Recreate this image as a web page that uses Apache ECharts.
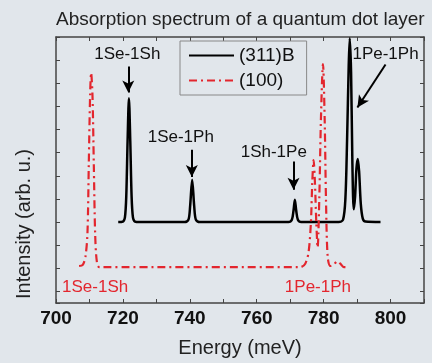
<!DOCTYPE html>
<html>
<head>
<meta charset="utf-8">
<script src="https://cdn.jsdelivr.net/npm/echarts@6/dist/echarts.min.js"></script>
<style>
  html, body { margin: 0; padding: 0; background: #e1e6eb; }
  #chart { width: 432px; height: 363px; }
</style>
</head>
<body>
<div id="chart"></div>
<script>
// (311)B spectrum, [energy meV, intensity]
const seriesB = [
    [718.6, 3.5], [720.0, 3.52], [720.6, 3.7], [721.0, 4.6], [721.4, 7.0], [721.8, 8.85],
    [722.2, 7.0], [722.6, 4.6], [723.0, 3.7], [723.6, 3.52], [725.0, 3.5],
    [738.5, 3.5], [739.6, 3.6], [740.1, 4.2], [740.7, 5.33], [741.3, 4.2], [741.8, 3.6], [742.9, 3.5],
    [769.5, 3.5], [770.5, 3.6], [771.0, 4.0], [771.4, 4.46], [771.8, 4.0], [772.3, 3.6], [773.3, 3.5],
    [784.5, 3.5], [785.8, 3.6], [786.5, 4.5], [787.0, 7.0], [787.5, 10.3], [787.8, 11.45],
    [788.2, 10.0], [788.6, 6.0], [789.0, 4.05], [789.4, 4.6], [789.8, 5.8], [790.2, 6.23],
    [790.6, 5.7], [791.1, 4.3], [791.7, 3.65], [792.5, 3.52], [797.0, 3.5]
];

// (100) spectrum
const series100 = [
    [706.9, 1.6], [708.0, 1.65], [708.8, 2.0], [709.4, 3.0], [709.8, 6.0], [710.2, 9.0], [710.5, 9.95],
    [710.9, 9.0], [711.3, 6.0], [711.7, 3.0], [712.2, 1.8], [713.0, 1.55],
    [773.0, 1.55], [774.5, 1.7], [775.5, 2.2], [776.2, 3.5], [776.6, 5.2], [777.0, 6.18],
    [777.4, 5.2], [777.8, 3.5], [778.2, 2.4], [778.7, 4.5], [779.2, 8.0], [779.8, 10.33],
    [780.3, 8.0], [780.7, 4.5], [781.2, 2.0], [782.0, 1.6], [783.0, 1.65], [784.0, 1.8],
    [785.0, 1.7], [786.0, 1.55], [787.3, 1.55]
];

const seriesNames = ['(311)B', '(100)'];

// peak labels and arrows (data coords)
const labelsB = [
    { name: '1Se-1Sh', coord: [721.3, 10.75] },
    { name: '1Se-1Ph', coord: [737.3, 7.17] },
    { name: '1Sh-1Pe', coord: [765.1, 6.52] },
    { name: '1Pe-1Ph', coord: [798.5, 10.75] }
];
const arrowsB = [
    [[721.6, 10.22], [721.6, 9.1]],
    [[740.6, 6.63], [740.6, 5.45]],
    [[771.0, 6.12], [771.0, 4.9]],
    [[798.5, 10.31], [790.1, 8.45]]
];
const labels100 = [
    { name: '1Se-1Sh', coord: [711.7, 0.69] },
    { name: '1Pe-1Ph', coord: [778.3, 0.69] }
];

const font = '"Liberation Sans", Arial, Helvetica, sans-serif';
const axisColor = '#444';

var chart = echarts.init(document.getElementById('chart'));

function textPoints(list, color) {
    return list.map(l => ({
        name: l.name,
        coord: l.coord,
        symbol: 'circle',
        symbolSize: 1,
        itemStyle: { color: 'transparent' },
        label: {
            show: true,
            position: 'inside',
            formatter: l.name,
            color: color,
            fontSize: 17,
            fontFamily: font
        }
    }));
}

var option = {
    backgroundColor: '#e1e6eb',
    animation: false,
    title: {
        text: 'Absorption spectrum of a quantum dot layer',
        left: 51,
        top: 5,
        textStyle: { fontSize: 19, fontWeight: 'normal', color: '#222', fontFamily: font }
    },
    legend: {
        data: seriesNames,
        orient: 'vertical',
        left: 180,
        top: 41,
        padding: [5, 12, 5, 8],
        itemWidth: 45,
        itemHeight: 14,
        itemGap: 6,
        borderColor: '#888',
        borderWidth: 1,
        itemStyle: { color: 'transparent', borderColor: 'transparent', borderWidth: 0 },
        textStyle: { fontSize: 19, color: '#111', fontFamily: font }
    },
    grid: { left: 56, right: 8, top: 37, bottom: 60 },
    xAxis: [{
        type: 'value',
        position: 'bottom',
        min: 700, max: 810, interval: 10,
        axisLine: { show: true, lineStyle: { color: axisColor, width: 1.5 } },
        axisTick: { show: true, inside: true, length: 4, lineStyle: { color: axisColor } },
        axisLabel: {
            margin: 6,
            fontSize: 19, fontWeight: 'bold', color: '#111', fontFamily: font,
            formatter: v => (v % 20 === 0 ? String(v) : '')
        },
        splitLine: { show: false },
        name: 'Energy (meV)',
        nameLocation: 'middle',
        nameGap: 35,
        nameTextStyle: { fontSize: 20, color: '#222', fontFamily: font }
    }, {
        type: 'value',
        position: 'top',
        min: 700, max: 810, interval: 10,
        axisLine: { show: true, lineStyle: { color: axisColor, width: 1.5 } },
        axisTick: { show: true, inside: true, length: 4, lineStyle: { color: axisColor } },
        axisLabel: { show: false },
        splitLine: { show: false }
    }],
    yAxis: [{
        type: 'value',
        position: 'left',
        min: 0, max: 11.5,
        axisLine: { show: true, lineStyle: { color: axisColor, width: 1.5 } },
        axisTick: { show: false },
        axisLabel: { show: false },
        splitLine: { show: false },
        name: 'Intensity (arb. u.)',
        nameLocation: 'middle',
        nameGap: 22,
        nameTextStyle: { fontSize: 20, color: '#222', fontFamily: font, padding: [0, 108, 0, 0] }
    }, {
        type: 'value',
        position: 'left',
        inverse: true,
        min: 0, max: 11.5, interval: 1,
        axisLine: { show: false },
        axisTick: { show: true, inside: true, length: 4, lineStyle: { color: axisColor } },
        axisLabel: { show: false },
        splitLine: { show: false }
    }, {
        type: 'value',
        position: 'right',
        inverse: true,
        min: 0, max: 11.5, interval: 1,
        axisLine: { show: true, lineStyle: { color: axisColor, width: 1.5 } },
        axisTick: { show: true, inside: true, length: 4, lineStyle: { color: axisColor } },
        axisLabel: { show: false },
        splitLine: { show: false }
    }],
    series: [{
        name: seriesNames[0],
        type: 'line',
        data: seriesB,
        symbol: 'none',
        smooth: 0.3,
        color: '#000',
        lineStyle: { color: '#000', width: 2.5 },
        markLine: {
            silent: true,
            symbol: ['none', 'arrow'],
            symbolSize: [9, 12],
            lineStyle: { color: '#000', type: 'solid', width: 2 },
            label: { show: false },
            data: arrowsB.map(a => [{ coord: a[0] }, { coord: a[1] }])
        },
        markPoint: {
            silent: true,
            data: textPoints(labelsB, '#111')
        }
    }, {
        name: seriesNames[1],
        type: 'line',
        data: series100,
        symbol: 'none',
        smooth: 0.3,
        color: '#e3262e',
        lineStyle: { color: '#e3262e', width: 2.2, type: [8, 4, 2, 4] },
        markPoint: {
            silent: true,
            data: textPoints(labels100, '#e3262e')
        }
    }]
};

chart.setOption(option);
</script>
</body>
</html>
